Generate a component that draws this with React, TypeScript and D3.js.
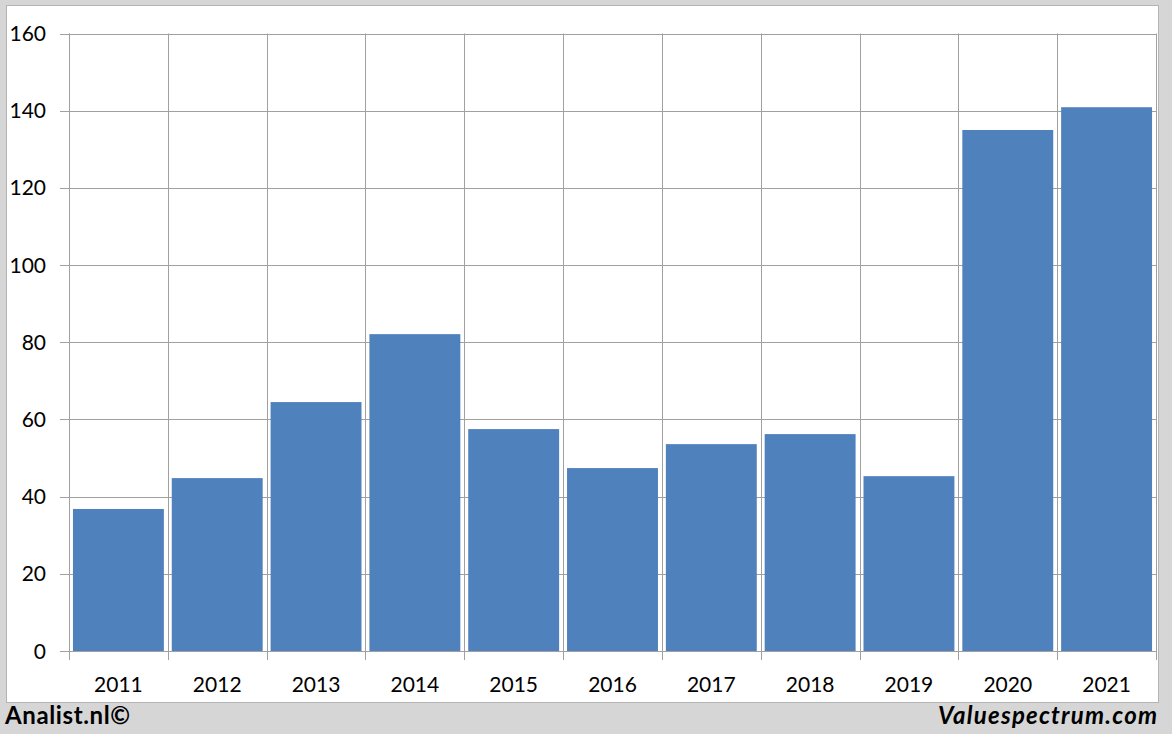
import React from "react";
import * as d3 from "d3";

const years = ["2011", "2012", "2013", "2014", "2015", "2016", "2017", "2018", "2019", "2020", "2021"];
const values = [36.8, 44.8, 64.5, 82.1, 57.5, 47.4, 53.6, 56.2, 45.3, 135.0, 140.9];
const yTicks = [0, 20, 40, 60, 80, 100, 120, 140, 160];

const W = 1172;
const H = 734;
const plot = { left: 69, right: 1156, top: 33.5, bottom: 651 };
const FONT = "Lato, 'Open Sans', sans-serif";

export default function App() {
  const x = d3.scaleBand<string>().domain(years).range([plot.left, plot.right]).paddingInner(0.08).paddingOuter(0.04);
  const xCat = d3.scaleBand<string>().domain(years).range([plot.left, plot.right]).padding(0);
  const y = d3.scaleLinear().domain([0, 160]).range([plot.bottom, plot.top]);

  return (
    <svg width={W} height={H} style={{ position: "absolute", left: 0, top: 0 }} fontFamily={FONT}>
      <rect x={0} y={0} width={W} height={H} fill="#d6d6d6" />
      <rect x={6.5} y={5.5} width={1152} height={697} fill="#ffffff" stroke="#b4b4b4" strokeWidth={1} />
      {/* horizontal gridlines */}
      {yTicks.map((t) => (
        <line key={"h" + t} x1={plot.left - 9} x2={plot.right} y1={Math.round(y(t)) + 0.5} y2={Math.round(y(t)) + 0.5} stroke="#a0a0a0" strokeWidth={1} />
      ))}
      {/* vertical gridlines */}
      {years.map((yr) => (
        <line key={"v" + yr} x1={Math.round(xCat(yr)!) + 0.5} x2={Math.round(xCat(yr)!) + 0.5} y1={plot.top} y2={plot.bottom + 9} stroke="#a0a0a0" strokeWidth={1} />
      ))}
      <line x1={Math.round(plot.right) + 0.5} x2={Math.round(plot.right) + 0.5} y1={plot.top} y2={plot.bottom + 9} stroke="#a0a0a0" strokeWidth={1} />
      {/* bars */}
      {years.map((yr, i) => (
        <rect key={"b" + yr} x={x(yr)!} y={y(values[i])} width={x.bandwidth()} height={y(0) - y(values[i])} fill="#4f81bd" />
      ))}
      {/* axis line */}
      <line x1={plot.left + 0.5} x2={plot.left + 0.5} y1={plot.top} y2={plot.bottom + 9} stroke="#a0a0a0" strokeWidth={1} />
      <line x1={plot.left - 9} x2={plot.right} y1={Math.round(y(0)) + 0.5} y2={Math.round(y(0)) + 0.5} stroke="#a0a0a0" strokeWidth={1} />
      {/* y labels */}
      {yTicks.map((t) => (
        <text key={"yl" + t} x={46} y={y(t)} dy="0.36em" textAnchor="end" fontSize={21} fill="#000">
          {t}
        </text>
      ))}
      {/* x labels */}
      {years.map((yr) => (
        <text key={"xl" + yr} x={xCat(yr)! + xCat.bandwidth() / 2} y={692} textAnchor="middle" fontSize={21} fill="#000">
          {yr}
        </text>
      ))}
      <text x={5} y={724} fontSize={24} fontWeight="bold" fill="#000" textLength={125} lengthAdjust="spacing">
        Analist.nl©
      </text>
      <text x={938} y={724} fontSize={24} fontWeight="bold" fontStyle="italic" fill="#000" textLength={219} lengthAdjust="spacing">
        Valuespectrum.com
      </text>
    </svg>
  );
}
